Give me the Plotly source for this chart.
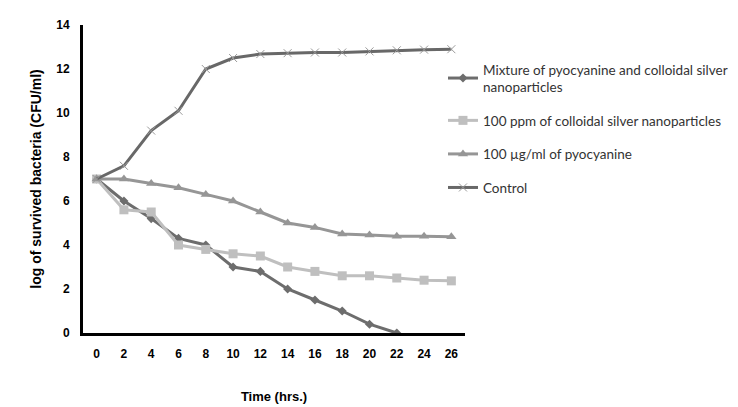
import plotly.graph_objects as go

time_labels = ["0", "2", "4", "6", "8", "10", "12", "14", "16", "18", "20", "22", "24", "26"]
mixture = [7.0, 6.0, 5.2, 4.3, 4.0, 3.0, 2.8, 2.0, 1.5, 1.0, 0.4, 0.0]
silver = [7.0, 5.6, 5.5, 4.0, 3.8, 3.6, 3.5, 3.0, 2.8, 2.6, 2.6, 2.5, 2.4, 2.37]
pyocyanine = [7.0, 7.0, 6.8, 6.6, 6.3, 6.0, 5.5, 5.0, 4.8, 4.5, 4.45, 4.4, 4.4, 4.37]
control = [7.0, 7.6, 9.2, 10.1, 12.0, 12.5, 12.68, 12.72, 12.75, 12.75, 12.8, 12.85, 12.88, 12.9]

names = [
    "Mixture of pyocyanine and colloidal silver<br>nanoparticles",
    "100 ppm of colloidal silver nanoparticles",
    "100 \u00b5g/ml of pyocyanine",
    "Control",
]

fig = go.Figure()
fig.add_trace(go.Scatter(x=time_labels[:len(mixture)], y=mixture, name=names[0], legendgroup="a",
                         mode="lines+markers", line=dict(color="#6d6d6d", width=3),
                         marker=dict(symbol="diamond", size=7, color="#6d6d6d")))
fig.add_trace(go.Scatter(x=time_labels, y=silver, name=names[1], legendgroup="b",
                         mode="lines+markers", line=dict(color="#bfbfbf", width=3),
                         marker=dict(symbol="square", size=9, color="#bfbfbf")))
fig.add_trace(go.Scatter(x=time_labels, y=pyocyanine, name=names[2], legendgroup="c",
                         mode="lines+markers", line=dict(color="#969696", width=3),
                         marker=dict(symbol="triangle-up", size=9, color="#969696")))
fig.add_trace(go.Scatter(x=time_labels, y=control, name=names[3], legendgroup="d",
                         mode="lines+markers", line=dict(color="#686868", width=3),
                         marker=dict(symbol="x-thin", size=8, color="#686868",
                                     line=dict(color="#9a9a9a", width=1))))

fig.update_layout(
    width=738, height=407,
    margin=dict(l=75, r=281, t=17, b=82, autoexpand=False),
    plot_bgcolor="white", paper_bgcolor="white",
    font=dict(family="Liberation Sans, Arial", color="black"),
    legend=dict(xref="container", yref="container", x=0.5894, xanchor="left", y=0.887, yanchor="top",
                font=dict(family="Lato", size=13.5, color="#333333"),
                tracegroupgap=13, bgcolor="rgba(0,0,0,0)"),
    xaxis=dict(type="category", showline=True, linecolor="black", linewidth=3, automargin=False,
               showgrid=False, zeroline=False, ticks="outside", ticklen=8, tickcolor="rgba(0,0,0,0)",
               tickfont=dict(size=12, family="Liberation Sans, Arial", weight="bold"),
               title=dict(text="<b>Time (hrs.)</b>", font=dict(size=13), standoff=32),
               range=[-0.5, 13.5]),
    yaxis=dict(range=[0, 14], dtick=2, showline=True, linecolor="black", linewidth=3, automargin=False,
               showgrid=False, zeroline=False, ticks="outside", ticklen=8, tickcolor="rgba(0,0,0,0)",
               tickfont=dict(size=12, family="Liberation Sans, Arial", weight="bold"),
               title=dict(text="<b>log of survived bacteria (CFU/ml)</b>", font=dict(size=14), standoff=12)),
)

fig.write_html("out.html")
